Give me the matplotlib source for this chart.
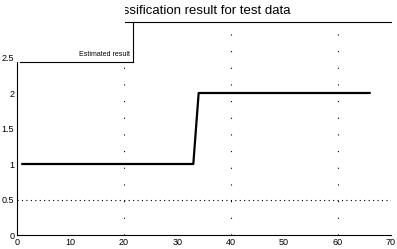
import matplotlib
matplotlib.use("Agg")
import matplotlib.pyplot as plt
from matplotlib.patches import Rectangle
from matplotlib.lines import Line2D

# ---- data ----
sample_index = [1, 2, 3, 4, 5, 6, 7, 8, 9, 10, 11, 12, 13, 14, 15, 16, 17, 18, 19, 20,
                21, 22, 23, 24, 25, 26, 27, 28, 29, 30, 31, 32, 33, 34, 35, 36, 37, 38, 39, 40,
                41, 42, 43, 44, 45, 46, 47, 48, 49, 50, 51, 52, 53, 54, 55, 56, 57, 58, 59, 60,
                61, 62, 63, 64, 65, 66]
class_label = [1, 1, 1, 1, 1, 1, 1, 1, 1, 1, 1, 1, 1, 1, 1, 1, 1, 1, 1, 1,
               1, 1, 1, 1, 1, 1, 1, 1, 1, 1, 1, 1, 1, 2, 2, 2, 2, 2, 2, 2,
               2, 2, 2, 2, 2, 2, 2, 2, 2, 2, 2, 2, 2, 2, 2, 2, 2, 2, 2, 2,
               2, 2, 2, 2, 2, 2]
x_ticks = [0, 10, 20, 30, 40, 50, 60, 70]
x_tick_labels = ["0", "10", "20", "30", "40", "50", "60", "70"]
y_ticks = [0, 0.5, 1, 1.5, 2, 2.5, 3]
y_tick_labels = ["0", "0.5", "1", "1.5", "2", "2.5", ""]
grid_x = [20, 40, 60]
grid_y = [0.5]
title_text = "Classification result for test data"
legend_text = "Estimated result"

plt.rcParams['font.family'] = ['Liberation Sans', 'DejaVu Sans']

W, H = 397, 249
fig = plt.figure(figsize=(W / 100, H / 100), dpi=100)
fig.patch.set_facecolor("white")

def fx(px):
    return px / W

def fy(py):
    return 1 - py / H

ax = fig.add_axes([fx(17), fy(235), fx(391) - fx(17), fy(22) - fy(235)])
ax.set_xlim(0, 70)
ax.set_ylim(0, 3)

ax.plot(sample_index, class_label, color="black", linewidth=1.6, zorder=3)

for gx in grid_x:
    ax.axvline(gx, color="black", linewidth=0.8, linestyle=(0, (1, 14)), zorder=1)
for gy in grid_y:
    ax.axhline(gy, color="black", linewidth=0.8, linestyle=(0, (1, 3)), zorder=1)

ax.set_xticks(x_ticks)
ax.set_xticklabels(x_tick_labels)
ax.set_yticks(y_ticks)
ax.set_yticklabels(y_tick_labels)
ax.tick_params(axis="both", which="major", length=0, labelsize=6.5, pad=2,
               colors="black")
ax.set_xticks(grid_x, minor=True)
ax.set_yticks([0.5, 1, 1.5, 2, 2.5], minor=True)
ax.tick_params(axis="x", which="minor", direction="in", length=4, width=0.8,
               top=True, bottom=True)
ax.tick_params(axis="y", which="minor", direction="in", length=4, width=0.8,
               left=False, right=True)
ax.spines["right"].set_visible(False)
for s in ("left", "bottom", "top"):
    ax.spines[s].set_linewidth(0.8)

ax.set_title(title_text, fontsize=9.5, pad=6, x=0.5 - 7 / 374)

# white area hiding the left part of title
fig.add_artist(Rectangle((0, fy(22)), fx(125), 1 - fy(22), transform=fig.transFigure,
                         facecolor="white", edgecolor="none", zorder=5))
# legend box (partially visible)
fig.add_artist(Rectangle((fx(16), fy(62)), fx(133) - fx(16), fy(21) - fy(62),
                         transform=fig.transFigure, facecolor="white",
                         edgecolor="none", zorder=5))
fig.add_artist(Line2D([fx(133), fx(133)], [fy(62), fy(22)], transform=fig.transFigure,
                      color="black", linewidth=0.8, zorder=6))
fig.add_artist(Line2D([fx(20), fx(133)], [fy(62), fy(62)], transform=fig.transFigure,
                      color="black", linewidth=0.8, zorder=6))
fig.add_artist(Line2D([fx(125), fx(133)], [fy(22), fy(22)], transform=fig.transFigure,
                      color="black", linewidth=0.8, zorder=6))
fig.text(fx(130), fy(55), legend_text, fontsize=5, ha="right", va="center", zorder=7)

fig.savefig("out.png", dpi=100)
